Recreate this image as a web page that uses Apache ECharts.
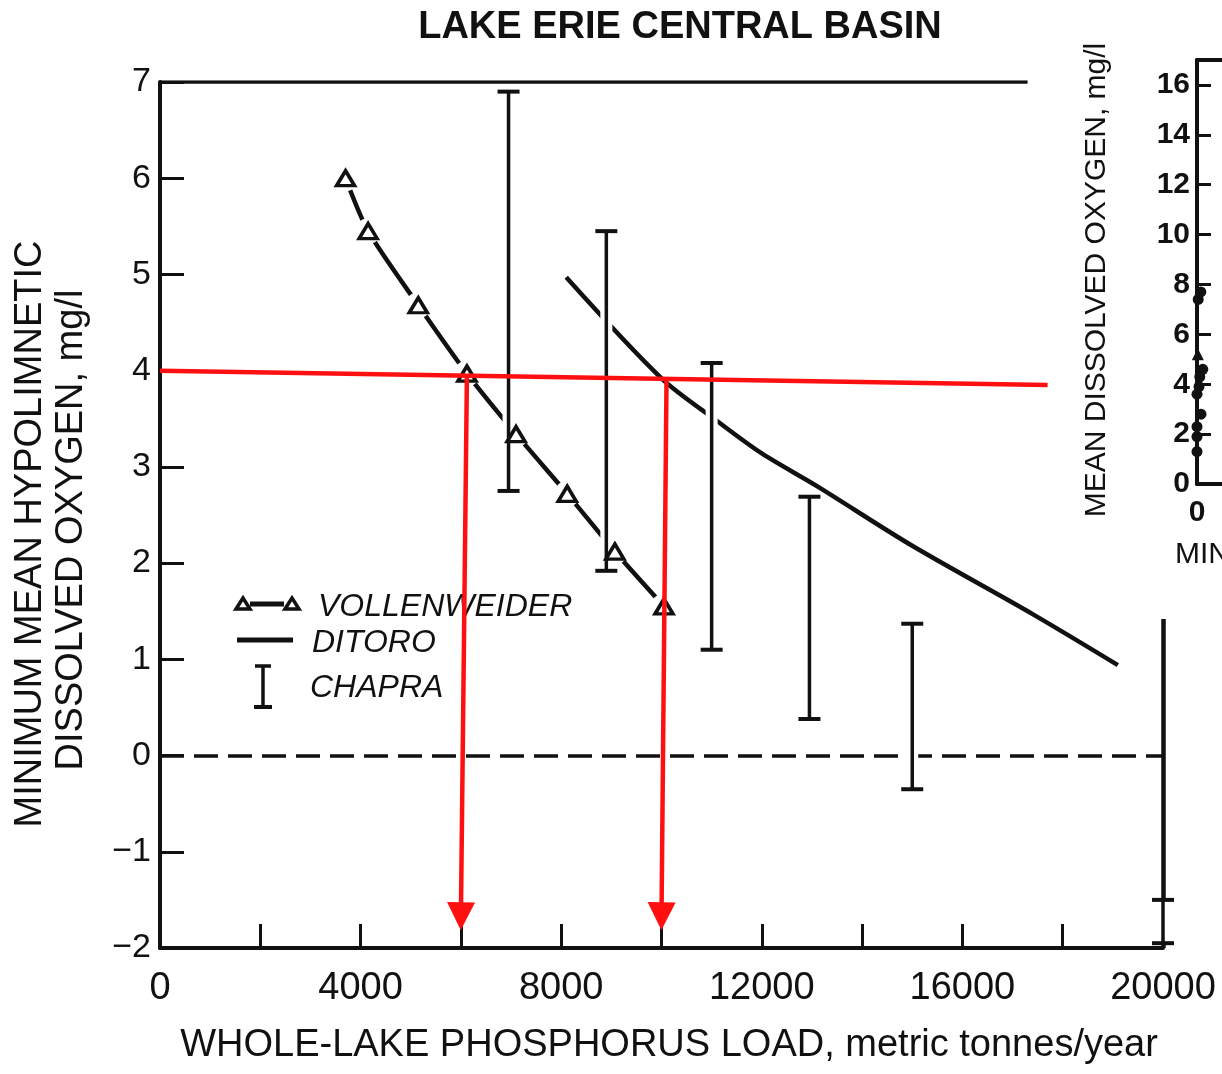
<!DOCTYPE html>
<html>
<head>
<meta charset="utf-8">
<title>Lake Erie Central Basin</title>
<script src="https://cdn.jsdelivr.net/npm/echarts@6/dist/echarts.min.js"></script>
<style>
  html, body { margin: 0; padding: 0; background: #fff; }
  #chart { width: 1222px; height: 1074px; }
</style>
</head>
<body>
<div id="chart"></div>
<script>
// main panel: minimum hypolimnetic DO vs whole-lake P load
const vollenweiderLoad = [3700, 4150, 5150, 6120, 7100, 8120, 9070, 10050];
const vollenweiderDO = [6.0, 5.45, 4.68, 3.97, 3.34, 2.72, 2.12, 1.55];

const ditoroLoad = [8100, 10000, 11100, 12000, 13100, 15000, 17400, 19100];
const ditoroDO = [4.97, 3.92, 3.48, 3.14, 2.8, 2.18, 1.47, 0.94];

const chapraLoad = [6950, 8900, 11000, 12950, 15000, 20000];
const chapraLow = [2.75, 1.92, 1.1, 0.38, -0.35, -1.95];
const chapraHigh = [6.9, 5.45, 4.08, 2.69, 1.37, -1.5];

const xTickLabels = [0, 4000, 8000, 12000, 16000, 20000];

// red hand-drawn annotation (4 mg/l target and the loads it gives)
const targetLoad = [0, 17700];
const targetDO = [4.0, 3.85];
const arrowTopLoad = [6120, 10100];
const arrowTopDO = [3.95, 3.9];
const arrowEndLoad = [6000, 10000];
const arrowEndDO = [-1.67, -1.67];

// right panel (cut off at the page edge)
const rightX = [0.12, 0.38, 0.28, 0.58, 0.2, 0, 0.4, 0, 0, 0];
const rightY = [7.4, 7.7, 4.3, 4.6, 3.9, 3.6, 2.8, 2.3, 1.9, 1.3];
const rightTriX = [0.08];
const rightTriY = [5.2];

const FONT = "'Liberation Sans', Arial, Helvetica, sans-serif";
const INK = "#111";
const RED = "#ff1010";

const chart = echarts.init(document.getElementById("chart"));

function chapraItem(params, api) {
  const x = api.value(0);
  const lo = api.coord([x, api.value(1)]);
  const hi = api.coord([x, api.value(2)]);
  const cap = 11;
  return {
    type: "group",
    children: [
      { type: "line", shape: { x1: lo[0], y1: lo[1], x2: hi[0], y2: hi[1] }, style: { stroke: "#fff", lineWidth: 12 } },
      { type: "line", shape: { x1: lo[0], y1: lo[1], x2: hi[0], y2: hi[1] }, style: { stroke: INK, lineWidth: 3.5 } },
      { type: "line", shape: { x1: lo[0] - cap, y1: lo[1], x2: lo[0] + cap, y2: lo[1] }, style: { stroke: INK, lineWidth: 4 } },
      { type: "line", shape: { x1: hi[0] - cap, y1: hi[1], x2: hi[0] + cap, y2: hi[1] }, style: { stroke: INK, lineWidth: 4 } }
    ]
  };
}

const axisCommon = {
  axisLine: { show: true, onZero: false, lineStyle: { color: INK, width: 4 } },
  axisTick: { show: true, inside: true, length: 24, lineStyle: { color: INK, width: 3 } },
  splitLine: { show: false }
};

chart.setOption({
  animation: false,
  backgroundColor: "#fff",
  grid: [
    { left: 160, top: 82, width: 1003, height: 866 },
    { left: 1197, top: 60, width: 400, height: 424 }
  ],
  xAxis: [
    Object.assign({}, axisCommon, {
      type: "value", gridIndex: 0, min: 0, max: 20000, interval: 2000,
      axisLabel: {
        fontFamily: FONT, fontSize: 38, color: INK, margin: 22,
        formatter: (v) => (xTickLabels.includes(v) ? String(v) : "")
      }
    }),
    Object.assign({}, axisCommon, {
      type: "value", gridIndex: 1, min: 0, max: 10, interval: 2,
      axisTick: { show: false },
      axisLabel: {
        fontFamily: FONT, fontSize: 30, fontWeight: "bold", color: INK, margin: 14,
        formatter: (v) => (v === 0 ? "0" : "")
      }
    }),
    {
      type: "value", gridIndex: 1, position: "top", min: 0, max: 10,
      axisLine: { show: true, onZero: false, lineStyle: { color: INK, width: 4 } },
      axisTick: { show: false }, axisLabel: { show: false }, splitLine: { show: false }
    }
  ],
  yAxis: [
    Object.assign({}, axisCommon, {
      type: "value", gridIndex: 0, min: -2, max: 7, interval: 1,
      axisLabel: {
        fontFamily: FONT, fontSize: 34, color: INK, margin: 9,
        formatter: (v) => (v < 0 ? "\u2212" + Math.abs(v) : String(v))
      }
    }),
    Object.assign({}, axisCommon, {
      type: "value", gridIndex: 1, min: 0, max: 17, interval: 2,
      axisTick: { show: true, inside: true, length: 14, lineStyle: { color: INK, width: 3 } },
      axisLabel: {
        fontFamily: FONT, fontSize: 30, fontWeight: "bold", color: INK, margin: 7,
        showMaxLabel: false,
        formatter: (v) => (v % 2 === 0 ? String(v) : "")
      }
    })
  ],
  series: [
    {
      name: "frame",
      type: "lines",
      coordinateSystem: "cartesian2d",
      z: 1,
      silent: true,
      lineStyle: { color: INK, width: 3.5, opacity: 1 },
      data: [
        { coords: [[0, 7], [17300, 7]] },
        { coords: [[20000, 1.42], [20000, -2]], lineStyle: { width: 4.5 } },
        { coords: [[0, 0], [20000, 0]], lineStyle: { type: [24, 10], width: 3.5 } }
      ]
    },
    {
      name: "DITORO",
      type: "line",
      z: 2,
      smooth: 0.3,
      showSymbol: false,
      lineStyle: { color: INK, width: 4.5 },
      data: ditoroLoad.map((x, i) => [x, ditoroDO[i]])
    },
    {
      name: "VOLLENWEIDER",
      type: "line",
      z: 3,
      smooth: 0.25,
      showSymbol: false,
      lineStyle: { color: INK, width: 4.5 },
      data: vollenweiderLoad.map((x, i) => [x, vollenweiderDO[i]])
    },
    {
      name: "halo",
      type: "scatter",
      z: 4,
      silent: true,
      symbol: "circle",
      symbolSize: 26,
      itemStyle: { color: "#fff", opacity: 1 },
      data: vollenweiderLoad.map((x, i) => [x, vollenweiderDO[i]])
    },
    {
      name: "CHAPRA",
      type: "custom",
      z: 5,
      renderItem: chapraItem,
      data: chapraLoad.map((x, i) => [x, chapraLow[i], chapraHigh[i]])
    },
    {
      name: "VOLLENWEIDER points",
      type: "scatter",
      z: 6,
      symbol: "triangle",
      symbolSize: [18, 15],
      itemStyle: { color: "#fff", borderColor: INK, borderWidth: 3.5, opacity: 1 },
      data: vollenweiderLoad.map((x, i) => [x, vollenweiderDO[i]])
    },
    {
      name: "target",
      type: "lines",
      coordinateSystem: "cartesian2d",
      z: 10,
      silent: true,
      symbol: ["none", "none"],
      lineStyle: { color: RED, width: 4.5, opacity: 1 },
      data: [{ coords: [[targetLoad[0], targetDO[0]], [targetLoad[1], targetDO[1]]] }]
    },
    {
      name: "arrows",
      type: "lines",
      coordinateSystem: "cartesian2d",
      z: 10,
      silent: true,
      symbol: ["none", "triangle"],
      symbolSize: [30, 28],
      lineStyle: { color: RED, width: 4.5, opacity: 1 },
      itemStyle: { color: RED },
      data: arrowTopLoad.map((x, i) => ({
        coords: [[x, arrowTopDO[i]], [arrowEndLoad[i], arrowEndDO[i]]]
      }))
    },
    {
      name: "right dots",
      type: "scatter",
      xAxisIndex: 1,
      yAxisIndex: 1,
      symbolSize: 11,
      itemStyle: { color: INK, opacity: 1 },
      data: rightX.map((x, i) => [x, rightY[i]])
    },
    {
      name: "right triangles",
      type: "scatter",
      xAxisIndex: 1,
      yAxisIndex: 1,
      symbol: "triangle",
      symbolSize: 12,
      itemStyle: { color: INK, opacity: 1 },
      data: rightTriX.map((x, i) => [x, rightTriY[i]])
    }
  ],
  graphic: [
    {
      type: "text", x: 680, y: 28,
      style: { text: "LAKE ERIE CENTRAL BASIN", font: "bold 38px " + FONT, fill: INK, align: "center", verticalAlign: "middle" }
    },
    {
      type: "text", x: 669, y: 1046,
      style: { text: "WHOLE-LAKE PHOSPHORUS LOAD, metric tonnes/year", font: "38px " + FONT, fill: INK, align: "center", verticalAlign: "middle" }
    },
    {
      type: "text", x: 31, y: 534, rotation: Math.PI / 2,
      style: { text: "MINIMUM MEAN HYPOLIMNETIC", font: "38px " + FONT, fill: INK, align: "center", verticalAlign: "middle" }
    },
    {
      type: "text", x: 72, y: 530, rotation: Math.PI / 2,
      style: { text: "DISSOLVED OXYGEN, mg/l", font: "38px " + FONT, fill: INK, align: "center", verticalAlign: "middle" }
    },
    {
      type: "text", x: 1097, y: 280, rotation: Math.PI / 2,
      style: { text: "MEAN DISSOLVED OXYGEN, mg/l", font: "30px " + FONT, fill: INK, align: "center", verticalAlign: "middle" }
    },
    {
      type: "text", x: 1175, y: 555,
      style: { text: "MINIMUM", font: "30px " + FONT, fill: INK, align: "left", verticalAlign: "middle" }
    },
    // legend
    { type: "line", shape: { x1: 250, y1: 604, x2: 284, y2: 604 }, style: { stroke: INK, lineWidth: 5 } },
    { type: "polygon", shape: { points: [[236, 609], [243, 598], [250, 609]] }, style: { fill: "#fff", stroke: INK, lineWidth: 3.5 } },
    { type: "polygon", shape: { points: [[285, 609], [292, 598], [299, 609]] }, style: { fill: "#fff", stroke: INK, lineWidth: 3.5 } },
    {
      type: "text", x: 318, y: 607,
      style: { text: "VOLLENWEIDER", font: "italic 32px " + FONT, fill: INK, align: "left", verticalAlign: "middle" }
    },
    { type: "line", shape: { x1: 237, y1: 640, x2: 293, y2: 640 }, style: { stroke: INK, lineWidth: 5 } },
    {
      type: "text", x: 312, y: 643,
      style: { text: "DITORO", font: "italic 32px " + FONT, fill: INK, align: "left", verticalAlign: "middle" }
    },
    { type: "line", shape: { x1: 263, y1: 666, x2: 263, y2: 707 }, style: { stroke: INK, lineWidth: 3.5 } },
    { type: "line", shape: { x1: 255, y1: 666, x2: 271, y2: 666 }, style: { stroke: INK, lineWidth: 3.5 } },
    { type: "line", shape: { x1: 254, y1: 707, x2: 272, y2: 707 }, style: { stroke: INK, lineWidth: 4 } },
    {
      type: "text", x: 310, y: 688,
      style: { text: "CHAPRA", font: "italic 32px " + FONT, fill: INK, align: "left", verticalAlign: "middle" }
    }
  ]
});

window.addEventListener("resize", () => {
  chart.resize();
});
</script>
</body>
</html>
